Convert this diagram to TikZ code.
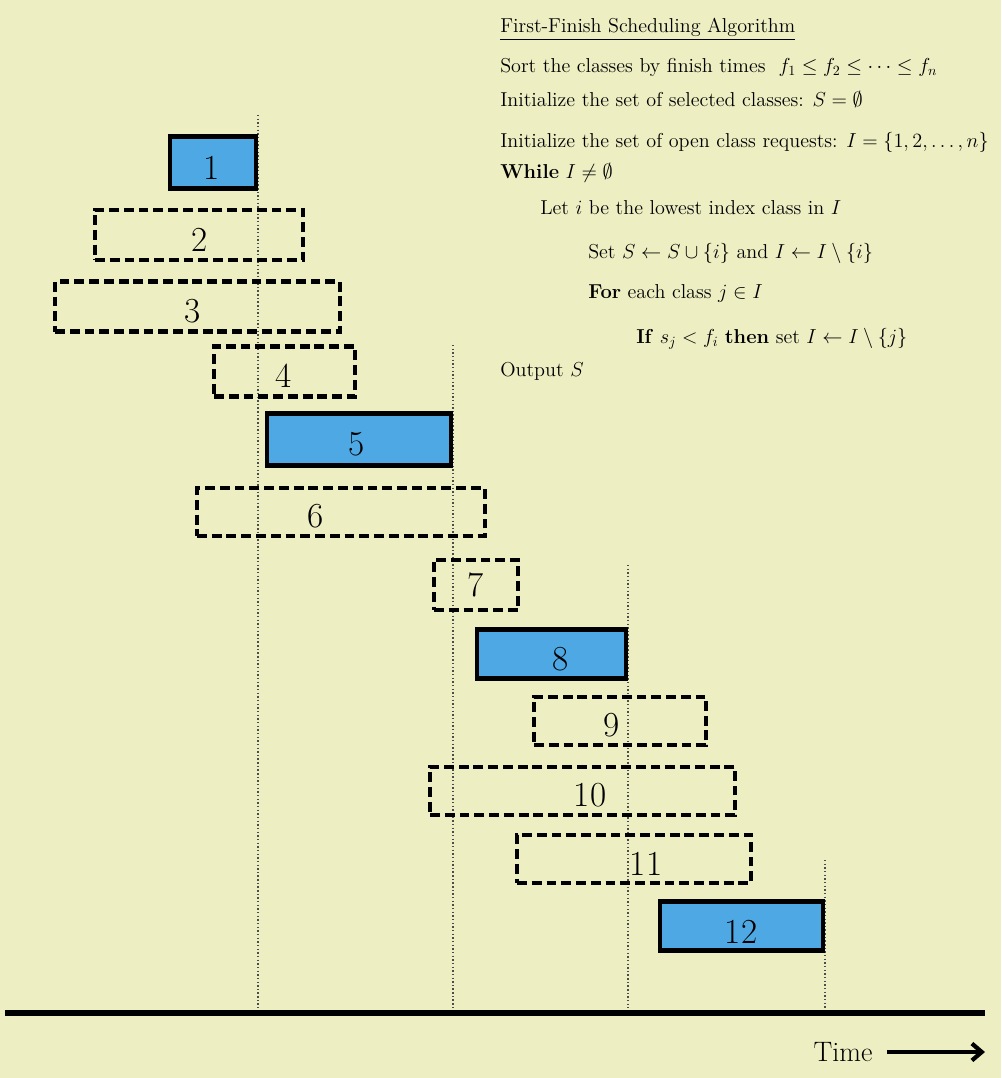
\documentclass[tikz,border=0pt]{standalone}
\usepackage{amsmath,amssymb}
\usetikzlibrary{arrows.meta}
\definecolor{paper}{RGB}{237,238,194}
\definecolor{selblue}{RGB}{78,168,228}
\tikzset{
  px/.style={x=0.025cm,y=-0.025cm},
  classbox/.style={rectangle,inner sep=0pt,line width=3.4pt,line join=miter},
  chosen/.style={classbox,draw=black,fill=selblue},
  rejected/.style={classbox,draw=black,dash pattern=on 7pt off 3.5pt,line width=2.9pt},
  lab/.style={font=\fontsize{25}{25}\selectfont,text=black},
  dotline/.style={line width=1.3pt,dash pattern=on 1pt off 1.6pt,black!70},
  algo/.style={anchor=base west,font=\fontsize{14.3}{15}\selectfont,text=black,inner sep=0pt}
}
\begin{document}
\begin{tikzpicture}[px]
\fill[paper] (0,0) rectangle (1001,1078);
\useasboundingbox (0,0) rectangle (1001,1078);
% dotted time markers
\coordinate (d1t) at (258,115); \coordinate (d1b) at (258,1008);
\coordinate (d2t) at (453,345); \coordinate (d2b) at (453,1008);
\coordinate (d3t) at (628,565); \coordinate (d3b) at (628,1008);
\coordinate (d4t) at (825,860); \coordinate (d4b) at (825,1008);
\draw[dotline] (d1t) -- (d1b);
\draw[dotline] (d2t) -- (d2b);
\draw[dotline] (d3t) -- (d3b);
\draw[dotline] (d4t) -- (d4b);
% classes
\node[chosen,minimum width=2.15cm,minimum height=1.3cm] (c1) at (213,162.5) {};
\node[rejected,minimum width=5.2cm,minimum height=1.27cm] (c2) at (199,235) {};
\node[rejected,minimum width=7.12cm,minimum height=1.25cm] (c3) at (197.5,306.5) {};
\node[rejected,minimum width=3.52cm,minimum height=1.25cm] (c4) at (284.5,371.5) {};
\node[chosen,minimum width=4.6cm,minimum height=1.3cm] (c5) at (359,439.5) {};
\node[rejected,minimum width=7.2cm,minimum height=1.18cm] (c6) at (341,512) {};
\node[rejected,minimum width=2.1cm,minimum height=1.27cm] (c7) at (476,585) {};
\node[chosen,minimum width=3.72cm,minimum height=1.22cm] (c8) at (551.5,654) {};
\node[rejected,minimum width=4.3cm,minimum height=1.22cm] (c9) at (620,721) {};
\node[rejected,minimum width=7.62cm,minimum height=1.22cm] (c10) at (582.5,791) {};
\node[rejected,minimum width=5.85cm,minimum height=1.22cm] (c11) at (634,859) {};
\node[chosen,minimum width=4.07cm,minimum height=1.22cm] (c12) at (741.5,926) {};
% labels
\node[lab] (l1) at (212,168) {1};
\node[lab] (l2) at (200,240) {2};
\node[lab] (l3) at (193,311) {3};
\node[lab] (l4) at (284,376) {4};
\node[lab] (l5) at (357,444) {5};
\node[lab] (l6) at (316,516) {6};
\node[lab] (l7) at (476,585) {7};
\node[lab] (l8) at (561,659) {8};
\node[lab] (l9) at (612,725) {9};
\node[lab] (l10) at (590,795) {10};
\node[lab] (l11) at (646,864) {11};
\node[lab] (l12) at (741,932) {12};
% time axis
\coordinate (ax0) at (5,1013); \coordinate (ax1) at (985,1013);
\draw[line width=3.6pt] (ax0) -- (ax1);
\node[font=\fontsize{20}{20}\selectfont,text=black] (time) at (843,1052) {Time};
\coordinate (tarr) at (985,1052);
\draw[line width=3pt,-{Straight Barb[length=7pt,width=12pt,line width=3pt]}] ([xshift=0.25cm]time.east) -- (tarr);
% algorithm
\node[algo] (a0) at (500,32) {\underline{First-Finish Scheduling Algorithm}};
\node[algo] (a1) at (500,72) {Sort the classes by finish times \ $f_1\le f_2\le\cdots\le f_n$};
\node[algo] (a2) at (500,106) {Initialize the set of selected classes: $S=\emptyset$};
\node[algo] (a3) at (500,147) {Initialize the set of open class requests: $I=\{1,2,\dots,n\}$};
\node[algo] (a4) at (500,178) {\textbf{While} $I\neq\emptyset$};
\node[algo] (a5) at (540,214) {Let $i$ be the lowest index class in $I$};
\node[algo] (a6) at (588,258) {Set $S\leftarrow S\cup\{i\}$ and $I\leftarrow I\setminus\{i\}$};
\node[algo] (a7) at (588,298) {\textbf{For} each class $j\in I$};
\node[algo] (a8) at (636,343) {\textbf{If} $s_j<f_i$ \textbf{then} set $I\leftarrow I\setminus\{j\}$};
\node[algo] (a9) at (500,376) {Output $S$};
\end{tikzpicture}
\end{document}
